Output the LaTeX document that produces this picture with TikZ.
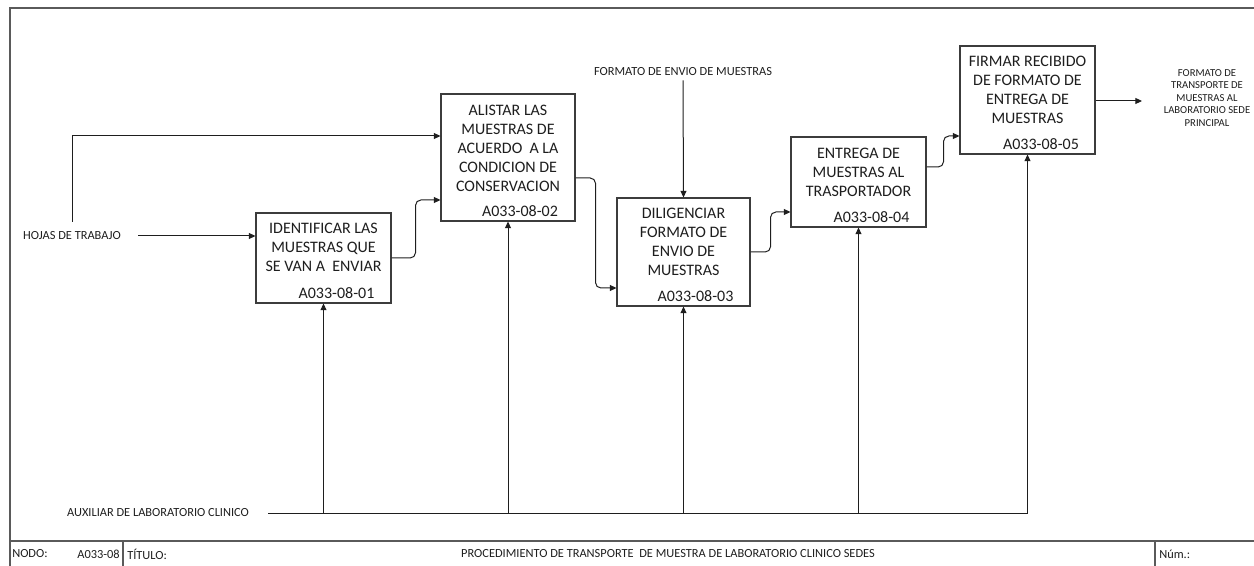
\documentclass[tikz,border=0pt]{standalone}
\usepackage{fontspec}
\setmainfont{Carlito}
\usetikzlibrary{arrows.meta,calc}

\definecolor{ink}{HTML}{1E1E1E}
\definecolor{edge}{HTML}{3C3C3C}
\definecolor{rule}{HTML}{5A5A5A}

\tikzset{
  proc/.style={draw=edge, line width=0.8pt, fill=white, inner sep=0pt},
  boxtxt/.style={text=ink, align=center, inner sep=0pt,
    font=\fontsize{12}{14.25}\selectfont},
  idtxt/.style={text=ink, inner sep=0pt, font=\fontsize{12}{14.25}\selectfont},
  lbl/.style={text=ink, inner sep=0pt, font=\fontsize{9.3}{11}\selectfont},
  outlbl/.style={text=ink, inner sep=0pt, align=center,
    font=\fontsize{8}{9.4}\selectfont},
  flow/.style={draw=ink, line width=0.75pt, rounded corners=4pt,
    -{Triangle[length=5pt,width=4.5pt]}},
  plain/.style={draw=ink, line width=0.75pt},
  frame/.style={draw=rule, line width=0.9pt},
}

\begin{document}
\begin{tikzpicture}[x=0.75pt,y=-0.75pt]
\useasboundingbox (0,0) rectangle (1254,566);

% sheet border and title bar
\draw[frame] (1254,8) -- (10,8) -- (10,566);
\draw[frame] (10,541) -- (1254,541);
\draw[frame] (123,541) -- (123,566);
\draw[frame] (1155,541) -- (1155,566);

\node[lbl, anchor=west] (nodo) at (12,554) {NODO:};
\node[lbl, anchor=east] (nodoid) at (120,554) {A033-08};
\node[lbl, anchor=west] (titulo) at (127,554) {TÍTULO:};
\node[lbl] (tit) at (668,554) {PROCEDIMIENTO DE TRANSPORTE~~DE MUESTRA DE LABORATORIO CLINICO SEDES};
\node[lbl, anchor=west] (num) at (1159,554) {Núm.:};

% activity boxes
\node[proc, minimum width=101.25pt, minimum height=67.5pt] (b1) at (323.5,258) {};
\node[proc, minimum width=100.5pt, minimum height=95.25pt] (b2) at (508,157.5) {};
\node[proc, minimum width=99.75pt, minimum height=81pt] (b3) at (683.5,252) {};
\node[proc, minimum width=101.25pt, minimum height=67.5pt] (b4) at (858.5,182) {};
\node[proc, minimum width=101.25pt, minimum height=81pt] (b5) at (1027.5,100) {};

\node[boxtxt, anchor=north] (t1) at ($(b1.north)+(0,10)$) {IDENTIFICAR LAS\\MUESTRAS QUE\\SE VAN A~~ENVIAR};
\node[boxtxt, anchor=north] (t2) at ($(b2.north)+(0,11)$) {ALISTAR LAS\\MUESTRAS DE\\ACUERDO~~A LA\\CONDICION DE\\CONSERVACION};
\node[boxtxt, anchor=north] (t3) at ($(b3.north)+(0,10)$) {DILIGENCIAR\\FORMATO DE\\ENVIO DE\\MUESTRAS};
\node[boxtxt, anchor=north] (t4) at ($(b4.north)+(0,11)$) {ENTREGA DE\\MUESTRAS AL\\TRASPORTADOR};
\node[boxtxt, anchor=north] (t5) at ($(b5.north)+(0,10)$) {FIRMAR RECIBIDO\\DE FORMATO DE\\ENTREGA DE\\MUESTRAS};

\node[idtxt] (i1) at ($(b1.south)+(13,-10)$) {A033-08-01};
\node[idtxt] (i2) at ($(b2.south)+(12,-10)$) {A033-08-02};
\node[idtxt] (i3) at ($(b3.south)+(12,-10)$) {A033-08-03};
\node[idtxt] (i4) at ($(b4.south)+(13,-10)$) {A033-08-04};
\node[idtxt] (i5) at ($(b5.south)+(13.5,-10)$) {A033-08-05};

% inputs and controls
\node[lbl] (hojas) at (72,236) {HOJAS DE TRABAJO};
\draw[flow] ($(hojas.east)+(17,0)$) -- (hojas.east -| b1.west);
\draw[flow, rounded corners=0pt] ($(hojas.north)+(0,-10)$) |- ($(b2.west)+(0,-21.5)$);

\node[lbl] (fenv) at (683,72) {FORMATO DE ENVIO DE MUESTRAS};
\draw[flow] ($(fenv.south)+(0,4)$) -- (b3.north);

% activity-to-activity flows
\draw[flow] (b1.east) -- ++(24,0) |- ($(b2.west)+(0,42.5)$);
\draw[flow] ($(b2.east)+(0,20.5)$) -- ++(20,0) |- ($(b3.west)+(0,36)$);
\draw[flow] (b3.east) -- ++(20,0) |- ($(b4.west)+(0,30)$);
\draw[flow] ($(b4.east)+(0,-15)$) -- ++(17,0) |- ($(b5.west)+(0,36)$);

% output
\coordinate (outend) at (1142,101);
\draw[flow] (b5.east |- outend) -- (outend);
\node[outlbl] (out) at (1207,98) {FORMATO DE\\TRANSPORTE DE\\MUESTRAS AL\\LABORATORIO SEDE\\PRINCIPAL};

% mechanism
\node[lbl] (aux) at (158,513) {AUXILIAR DE LABORATORIO CLINICO};
\coordinate (m0) at (268,514);
\draw[plain] (m0) -- (b5.south |- m0);
\foreach \b in {b1,b2,b3,b4,b5}
  \draw[flow] (\b.south |- m0) -- (\b.south);

\end{tikzpicture}
\end{document}
